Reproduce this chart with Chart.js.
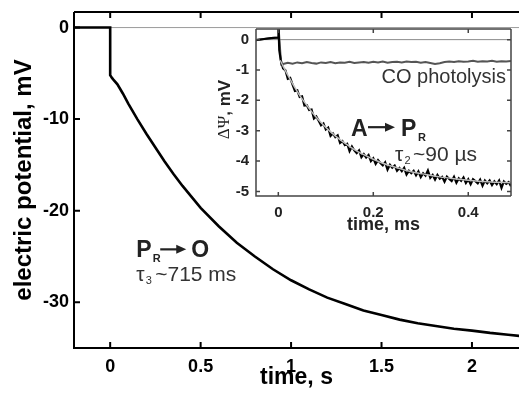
<!DOCTYPE html>
<html>
<head>
<meta charset="utf-8">
<title>electric potential</title>
<script src="https://cdn.jsdelivr.net/npm/chart.js@4.4.1/dist/chart.umd.min.js"></script>
<style>
  html, body { margin: 0; padding: 0; background: #fff; }
  #wrap { position: relative; width: 519px; height: 393px; overflow: hidden; }
  #mainChart { position: absolute; left: 0; top: 0; }
  #insetChart { position: absolute; left: 200px; top: 20px; }
</style>
</head>
<body>
<div id="wrap">
  <canvas id="mainChart" width="519" height="393"></canvas>
  <canvas id="insetChart" width="319" height="220"></canvas>
</div>
<script>
// main trace, time in s, potential in mV
const mainTime = [-0.2, 0, 0, 0.01, 0.02, 0.04, 0.07, 0.1, 0.15, 0.2, 0.25, 0.3, 0.35, 0.4, 0.45, 0.5,
  0.6, 0.7, 0.8, 0.9, 1.0, 1.1, 1.2, 1.3, 1.4, 1.5, 1.6, 1.7, 1.8, 1.9, 2.0, 2.1, 2.2, 2.3];
const mainPotential = [0, 0, -5.2, -5.5, -5.75, -6.2, -7.2, -8.3, -10.0, -11.6, -13.1, -14.6, -16.0, -17.3, -18.5, -19.7,
  -21.7, -23.5, -25.0, -26.4, -27.6, -28.6, -29.5, -30.2, -30.9, -31.4, -31.9, -32.3, -32.6, -32.9, -33.1, -33.35, -33.55, -33.75];
const mainXTicks = [0, 0.5, 1, 1.5, 2];
const mainYTicks = [0, -10, -20, -30];

// inset, time in ms, potential in mV
const insetPreT = [-0.05, -0.03, -0.015, 0, 0.0005, 0.002];
const insetPreV = [-0.02, 0.02, 0.05, 0.07, 0.4, -0.35];

const insetDecayT = [0.005, 0.01, 0.015, 0.02, 0.025, 0.03, 0.035, 0.04, 0.045, 0.05,
  0.055, 0.06, 0.065, 0.07, 0.075, 0.08, 0.085, 0.09, 0.095, 0.1,
  0.105, 0.11, 0.115, 0.12, 0.125, 0.13, 0.135, 0.14, 0.145, 0.15,
  0.155, 0.16, 0.165, 0.17, 0.175, 0.18, 0.185, 0.19, 0.195, 0.2,
  0.205, 0.21, 0.215, 0.22, 0.225, 0.23, 0.235, 0.24, 0.245, 0.25,
  0.255, 0.26, 0.265, 0.27, 0.275, 0.28, 0.285, 0.29, 0.295, 0.3,
  0.305, 0.31, 0.315, 0.32, 0.325, 0.33, 0.335, 0.34, 0.345, 0.35,
  0.355, 0.36, 0.365, 0.37, 0.375, 0.38, 0.385, 0.39, 0.395, 0.4,
  0.405, 0.41, 0.415, 0.42, 0.425, 0.43, 0.435, 0.44, 0.445, 0.45,
  0.455, 0.46, 0.465, 0.47, 0.475, 0.48, 0.485, 0.49, 0.495, 0.5];
const insetDecayV = [-0.66, -0.95, -1.01, -1.29, -1.26, -1.48, -1.69, -1.67, -1.89, -1.87,
  -2.17, -2.16, -2.32, -2.30, -2.60, -2.53, -2.67, -2.82, -2.76, -2.96,
  -2.90, -3.17, -3.09, -3.21, -3.15, -3.40, -3.34, -3.47, -3.43, -3.67,
  -3.52, -3.65, -3.74, -3.65, -3.87, -3.77, -3.88, -3.80, -4.00, -3.91,
  -4.09, -3.97, -4.06, -4.14, -4.04, -4.28, -4.12, -4.22, -4.15, -4.32,
  -4.23, -4.33, -4.22, -4.44, -4.32, -4.40, -4.32, -4.47, -4.34, -4.53,
  -4.40, -4.48, -4.31, -4.55, -4.46, -4.61, -4.46, -4.58, -4.52, -4.68,
  -4.51, -4.59, -4.66, -4.52, -4.71, -4.57, -4.65, -4.54, -4.72, -4.60,
  -4.76, -4.60, -4.66, -4.73, -4.61, -4.81, -4.64, -4.73, -4.64, -4.79,
  -4.67, -4.76, -4.64, -4.88, -4.67, -4.75, -4.69, -4.83, -4.67, -4.81];

const coT = [0.006, 0.01, 0.02, 0.03, 0.04, 0.05, 0.06, 0.07, 0.08, 0.09, 0.1,
  0.11, 0.12, 0.13, 0.14, 0.15, 0.16, 0.17, 0.18, 0.19, 0.2,
  0.21, 0.22, 0.23, 0.24, 0.25, 0.26, 0.27, 0.28, 0.29, 0.3,
  0.31, 0.32, 0.33, 0.34, 0.35, 0.36, 0.37, 0.38, 0.39, 0.4,
  0.41, 0.42, 0.43, 0.44, 0.45, 0.46, 0.47, 0.48, 0.49, 0.5];
const coV = [-0.82, -0.80, -0.76, -0.79, -0.75, -0.78, -0.74, -0.77, -0.79, -0.75, -0.77,
  -0.74, -0.78, -0.75, -0.76, -0.73, -0.77, -0.75, -0.74, -0.76, -0.73,
  -0.75, -0.72, -0.76, -0.74, -0.73, -0.75, -0.72, -0.74, -0.73, -0.76,
  -0.74, -0.77, -0.80, -0.78, -0.74, -0.72, -0.74, -0.71, -0.73, -0.72,
  -0.70, -0.73, -0.71, -0.72, -0.70, -0.73, -0.71, -0.72, -0.70, -0.72];

const fitT = [0.004, 0.01, 0.02, 0.03, 0.04, 0.05, 0.06, 0.07, 0.08, 0.09, 0.1, 0.12, 0.14, 0.16, 0.18, 0.2,
  0.22, 0.25, 0.28, 0.31, 0.34, 0.37, 0.4, 0.44, 0.5];
const fitV = [-0.68, -0.87, -1.17, -1.45, -1.71, -1.95, -2.16, -2.37, -2.56, -2.73, -2.89, -3.17, -3.41, -3.62, -3.79, -3.94,
  -4.07, -4.22, -4.35, -4.44, -4.52, -4.58, -4.63, -4.68, -4.72];

const insetXTicks = [0, 0.2, 0.4];
const insetYTicks = [0, -1, -2, -3, -4, -5];

const FONT = "'Liberation Sans', Arial, Helvetica, sans-serif";

function pts(xs, ys) {
    return xs.map((x, i) => ({ x: x, y: ys[i] }));
}

// box with inward ticks, like the original figure
const framePlugin = {
    id: 'frame',
    beforeDatasetsDraw(chart, args, opts) {
        const { ctx, chartArea: a, scales } = chart;
        const y0 = scales.y.getPixelForValue(0);
        ctx.save();
        ctx.strokeStyle = opts.zeroColor;
        ctx.lineWidth = 1;
        ctx.beginPath();
        ctx.moveTo(a.left, y0);
        ctx.lineTo(a.right, y0);
        ctx.stroke();
        ctx.restore();
    },
    afterDatasetsDraw(chart, args, opts) {
        const { ctx, chartArea: a, scales: { x, y } } = chart;
        const t = opts.tick;
        ctx.save();
        ctx.strokeStyle = opts.color;
        ctx.lineWidth = opts.width;
        ctx.beginPath();
        ctx.moveTo(a.left, a.top);
        ctx.lineTo(a.left, a.bottom);
        ctx.lineTo(a.right, a.bottom);
        ctx.moveTo(a.left, a.top);
        ctx.lineTo(a.right, a.top);
        if (opts.right) {
            ctx.moveTo(a.right, a.top);
            ctx.lineTo(a.right, a.bottom);
        }
        x.ticks.forEach(tk => {
            const px = x.getPixelForValue(tk.value);
            ctx.moveTo(px, a.bottom);
            ctx.lineTo(px, a.bottom - t);
            ctx.moveTo(px, a.top);
            ctx.lineTo(px, a.top + t);
        });
        y.ticks.forEach(tk => {
            const py = y.getPixelForValue(tk.value);
            ctx.moveTo(a.left, py);
            ctx.lineTo(a.left + t, py);
            if (opts.right) {
                ctx.moveTo(a.right, py);
                ctx.lineTo(a.right - t, py);
            }
        });
        ctx.stroke();
        ctx.restore();
    }
};

function arrow(ctx, x1, x2, y, color) {
    ctx.save();
    ctx.strokeStyle = color;
    ctx.fillStyle = color;
    ctx.lineWidth = 2.2;
    ctx.beginPath();
    ctx.moveTo(x1, y);
    ctx.lineTo(x2 - 7, y);
    ctx.stroke();
    ctx.beginPath();
    ctx.moveTo(x2, y);
    ctx.lineTo(x2 - 10, y - 4.5);
    ctx.lineTo(x2 - 10, y + 4.5);
    ctx.closePath();
    ctx.fill();
    ctx.restore();
}

function text(ctx, s, x, y, font, color, align) {
    ctx.font = font;
    ctx.fillStyle = color;
    ctx.textAlign = align || 'left';
    ctx.textBaseline = 'alphabetic';
    ctx.fillText(s, x, y);
}

// fixed plot box: drop the label overhang padding chart.js adds
function fixY(width) {
    return axis => { axis.width = width; axis.paddingTop = 0; axis.paddingBottom = 0; };
}
function fixX(height) {
    return axis => { axis.height = height; axis.paddingLeft = 0; axis.paddingRight = 0; };
}

const mainText = {
    id: 'mainText',
    afterDraw(chart) {
        const ctx = chart.ctx;
        // anchor at data point, then small offsets for sub/superscripts
        const x0 = chart.scales.x.getPixelForValue(0.144);
        const y0 = chart.scales.y.getPixelForValue(-25.1);
        ctx.save();
        text(ctx, 'P', x0, y0, 'bold 23px ' + FONT, '#222');
        text(ctx, 'R', x0 + 16.5, y0 + 5, 'bold 11px ' + FONT, '#222');
        arrow(ctx, x0 + 24, x0 + 50, y0 - 8, '#222');
        text(ctx, 'O', x0 + 55, y0, 'bold 23px ' + FONT, '#222');
        text(ctx, 'τ', x0, y0 + 24, '21px ' + FONT, '#333');
        text(ctx, '3', x0 + 9.5, y0 + 27, '11px ' + FONT, '#333');
        text(ctx, '~715 ms', x0 + 19, y0 + 24, '21px ' + FONT, '#333');
        ctx.restore();
    }
};

const insetText = {
    id: 'insetText',
    afterDraw(chart) {
        const ctx = chart.ctx;
        const a = chart.chartArea;
        const xs = chart.scales.x, ys = chart.scales.y;
        ctx.save();
        // y axis title: Delta Psi, mV
        ctx.translate(25, (a.top + a.bottom) / 2 - 3);
        ctx.rotate(-Math.PI / 2);
        ctx.textBaseline = 'middle';
        ctx.font = '17px "Liberation Serif", "DejaVu Serif", serif';
        const w1 = ctx.measureText('ΔΨ').width;
        ctx.font = 'bold 17px ' + FONT;
        const w2 = ctx.measureText(', mV').width;
        ctx.fillStyle = '#222';
        ctx.textAlign = 'left';
        ctx.font = '17px "Liberation Serif", "DejaVu Serif", serif';
        ctx.fillText('ΔΨ', -(w1 + w2) / 2, 0);
        ctx.font = 'bold 17px ' + FONT;
        ctx.fillText(', mV', -(w1 + w2) / 2 + w1, 0);
        ctx.restore();

        ctx.save();
        text(ctx, 'CO photolysis', a.right - 5, ys.getPixelForValue(-1.42), '20px ' + FONT, '#333', 'right');
        const ax = xs.getPixelForValue(0.153);
        const ay = ys.getPixelForValue(-3.18);
        text(ctx, 'A', ax, ay, 'bold 23px ' + FONT, '#222');
        arrow(ctx, ax + 17, ax + 44, ay - 9, '#222');
        text(ctx, 'P', ax + 50, ay, 'bold 23px ' + FONT, '#222');
        text(ctx, 'R', ax + 67, ay + 5, 'bold 11px ' + FONT, '#222');
        text(ctx, 'τ', ax + 44, ay + 25, '21px ' + FONT, '#333');
        text(ctx, '2', ax + 53.5, ay + 28, '11px ' + FONT, '#333');
        text(ctx, '~90 µs', ax + 62, ay + 25, '21px ' + FONT, '#333');
        ctx.restore();
    }
};

new Chart(document.getElementById('mainChart'), {
    type: 'line',
    data: {
        datasets: [{
            label: 'electric potential',
            data: pts(mainTime, mainPotential),
            borderColor: '#000',
            borderWidth: 2.6,
            pointRadius: 0,
            tension: 0,
            fill: false
        }]
    },
    options: {
        responsive: false,
        animation: false,
        layout: { padding: { top: 12, right: 0, left: 0, bottom: 0 } },
        plugins: {
            legend: { display: false },
            tooltip: { enabled: false },
            frame: { color: '#000', width: 2, tick: 6, right: false, zeroColor: '#9a9a9a' }
        },
        scales: {
            x: {
                type: 'linear',
                min: -0.2,
                max: 2.26,
                afterBuildTicks: axis => { axis.ticks = mainXTicks.map(v => ({ value: v })); },
                afterFit: fixX(45),
                grid: { display: false, drawTicks: false },
                border: { display: false },
                ticks: { font: { family: FONT, size: 18, weight: 'bold' }, color: '#000', padding: 8, maxRotation: 0,
                         callback: v => String(v) },
                title: { display: true, text: 'time, s', color: '#000',
                         font: { family: FONT, size: 23, weight: 'bold' }, padding: { top: 0, bottom: 2 } }
            },
            y: {
                type: 'linear',
                min: -35,
                max: 1.7,
                afterBuildTicks: axis => { axis.ticks = mainYTicks.map(v => ({ value: v })); },
                afterFit: fixY(74),
                grid: { display: false, drawTicks: false },
                border: { display: false },
                ticks: { font: { family: FONT, size: 18, weight: 'bold' }, color: '#000', padding: 5,
                         callback: v => String(v) },
                title: { display: true, text: 'electric potential, mV', color: '#000',
                         font: { family: FONT, size: 24, weight: 'bold' }, padding: { top: 10, bottom: 0 } }
            }
        }
    },
    plugins: [framePlugin, mainText]
});

new Chart(document.getElementById('insetChart'), {
    type: 'line',
    data: {
        datasets: [
            {
                label: 'fit',
                data: pts(fitT, fitV),
                borderColor: '#bdbdbd',
                borderWidth: 1.5,
                pointRadius: 0,
                cubicInterpolationMode: 'monotone',
                order: 0
            },
            {
                label: 'A to PR',
                data: pts(insetPreT.concat(insetDecayT), insetPreV.concat(insetDecayV)),
                borderColor: '#000',
                borderWidth: 2.2,
                pointRadius: 0,
                tension: 0,
                order: 1
            },
            {
                label: 'CO photolysis',
                data: pts(insetPreT.slice(0, 5).concat(coT), insetPreV.slice(0, 5).concat(coV)),
                borderColor: '#555',
                borderWidth: 2,
                pointRadius: 0,
                tension: 0,
                order: 2
            }
        ]
    },
    options: {
        responsive: false,
        animation: false,
        layout: { padding: { top: 9, right: 8, left: 0, bottom: 0 } },
        plugins: {
            legend: { display: false },
            tooltip: { enabled: false },
            frame: { color: '#444', width: 1.5, tick: 4, right: true, zeroColor: '#8a8a8a' }
        },
        scales: {
            x: {
                type: 'linear',
                min: -0.047,
                max: 0.49,
                afterBuildTicks: axis => { axis.ticks = insetXTicks.map(v => ({ value: v })); },
                afterFit: fixX(44),
                grid: { display: false, drawTicks: false },
                border: { display: false },
                ticks: { font: { family: FONT, size: 15, weight: 'bold' }, color: '#222', padding: 8, maxRotation: 0,
                         callback: v => String(v) },
                title: { display: true, text: 'time, ms', color: '#222',
                         font: { family: FONT, size: 18, weight: 'bold' }, padding: { top: 0, bottom: 4 } }
            },
            y: {
                type: 'linear',
                min: -5.15,
                max: 0.35,
                afterBuildTicks: axis => { axis.ticks = insetYTicks.map(v => ({ value: v })); },
                afterFit: fixY(56),
                grid: { display: false, drawTicks: false },
                border: { display: false },
                ticks: { font: { family: FONT, size: 15, weight: 'bold' }, color: '#222', padding: 7,
                         callback: v => String(v) },
                title: { display: false }
            }
        }
    },
    plugins: [framePlugin, insetText]
});
</script>
</body>
</html>
